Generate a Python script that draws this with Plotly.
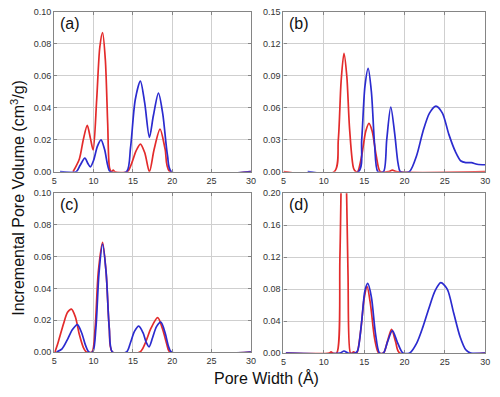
import plotly.graph_objects as go

# ---- data (pore width in Å, incremental pore volume in cm3/g) ----
a_red_x = [7.4, 8.2, 8.7, 9.2, 9.6, 9.95, 10.4, 10.8, 11.15, 11.5, 11.8, 12.05, 12.3, 12.5, 12.7, 14.3, 14.9, 15.4, 15.95, 16.5, 17.1, 17.7, 18.45, 19.1, 19.7, 30]
a_red_y = [0, 0.008, 0.02, 0.029, 0.021, 0.0136, 0.045, 0.078, 0.087, 0.07, 0.03, 0.002, 0, 0.001, 0, 0, 0.006, 0.013, 0.0173, 0.012, 0.0, 0.014, 0.0266, 0.014, 0, 0]
a_blue_x = [5.75, 7.8, 8.3, 8.9, 9.3, 9.6, 10.0, 10.5, 10.95, 11.4, 11.8, 12.1, 14.2, 14.7, 15.3, 15.95, 16.5, 17.1, 17.6, 18.25, 18.8, 19.4, 19.9, 30]
a_blue_y = [0, 0, 0.004, 0.0085, 0.005, 0.003, 0.007, 0.016, 0.0199, 0.014, 0.004, 0, 0, 0.015, 0.045, 0.0567, 0.043, 0.0215, 0.035, 0.0492, 0.036, 0.01, 0, 0]

b_red_x = [5.0, 11.3, 11.8, 12.15, 12.5, 12.85, 13.2, 13.7, 14.0, 14.2, 14.7, 15.2, 15.6, 16.0, 16.5, 17.0, 18.0, 18.5, 19.0, 30]
b_red_y = [0, 0, 0.03, 0.085, 0.111, 0.09, 0.04, 0.003, 0, 0, 0.015, 0.038, 0.0454, 0.038, 0.015, 0, 0, 0.0015, 0, 0]
b_blue_x = [8.0, 14.3, 14.7, 15.1, 15.5, 15.9, 16.3, 16.7, 17.4, 17.8, 18.3, 18.8, 19.2, 19.5, 20.6, 21.5, 22.3, 23.1, 23.9, 24.7, 25.5, 26.3, 27.0, 27.6, 28.3, 29.0, 30]
b_blue_y = [0, 0, 0.03, 0.08, 0.097, 0.075, 0.025, 0, 0, 0.03, 0.0607, 0.035, 0.008, 0, 0, 0.015, 0.038, 0.055, 0.0616, 0.055, 0.035, 0.019, 0.01, 0.0085, 0.0085, 0.007, 0.0065]

c_red_x = [5.1, 5.5, 6.2, 6.7, 7.2, 7.7, 8.2, 8.7, 9.1, 9.8, 10.2, 10.6, 11.15, 11.6, 12.0, 12.4, 15.9, 16.6, 17.3, 18.15, 18.8, 19.3, 19.7, 30]
c_red_y = [0, 0.006, 0.018, 0.025, 0.027, 0.022, 0.011, 0.003, 0, 0, 0.015, 0.05, 0.069, 0.05, 0.015, 0, 0, 0.006, 0.015, 0.0216, 0.014, 0.005, 0, 0]
c_blue_x = [5.3, 6.0, 6.7, 7.3, 7.95, 8.5, 9.0, 9.4, 9.9, 10.3, 10.7, 11.15, 11.6, 12.0, 12.4, 14.2, 14.7, 15.2, 15.75, 16.3, 16.7, 17.05, 17.5, 18.0, 18.55, 19.1, 19.5, 19.9, 30]
c_blue_y = [0, 0.002, 0.008, 0.014, 0.0173, 0.012, 0.004, 0, 0, 0.015, 0.05, 0.068, 0.05, 0.015, 0, 0, 0.006, 0.013, 0.0163, 0.012, 0.006, 0.0033, 0.009, 0.016, 0.0188, 0.012, 0.004, 0, 0]

d_red_x = [5.3, 10.7, 10.9, 11.1, 11.6, 12.0, 12.3, 12.5, 12.7, 13.0, 13.3, 13.5, 13.7, 13.9, 14.1, 14.6, 15.0, 15.37, 15.8, 16.3, 16.8, 17.4, 17.9, 18.4, 18.9, 19.4, 30]
d_red_y = [0, 0, 0.0015, 0, 0, 0.12, 0.29, 0.32, 0.27, 0.1, 0, 0, 0.0015, 0, 0, 0.03, 0.068, 0.083, 0.06, 0.018, 0, 0, 0.015, 0.0297, 0.014, 0, 0]
d_blue_x = [5.3, 12.0, 12.5, 13.0, 13.9, 14.2, 14.7, 15.1, 15.45, 15.9, 16.4, 16.9, 17.4, 17.9, 18.5, 19.1, 19.8, 20.65, 21.5, 22.3, 23.0, 23.8, 24.5, 25.3, 26.1, 26.9, 27.6, 28.2, 30]
d_blue_y = [0, 0, 0.0025, 0, 0, 0.003, 0.04, 0.078, 0.087, 0.07, 0.025, 0, 0, 0.014, 0.028, 0.014, 0, 0, 0.012, 0.033, 0.055, 0.078, 0.088, 0.08, 0.05, 0.02, 0.004, 0, 0]

x_ticks = [5, 10, 15, 20, 25, 30]
y_ranges = {"a": [0, 0.10], "b": [0, 0.15], "c": [0, 0.10], "d": [0, 0.20]}
y_dticks = {"a": 0.02, "b": 0.03, "c": 0.02, "d": 0.04}
panel_labels = ["(a)", "(b)", "(c)", "(d)"]
y_title = "Incremental Pore Volume (cm<sup>3</sup>/g)"
x_title = "Pore Width (Å)"

RED = "#e32b2b"
BLUE = "#2b2bcf"

W, H = 500, 397


def px_x(p):
    return p / W


def px_y(p):
    return min(1.0, max(0.0, 1 - p / H))


panels = [
    ("a", a_red_x, a_red_y, a_blue_x, a_blue_y, [px_x(52), px_x(252)], [px_y(171), px_y(7)]),
    ("b", b_red_x, b_red_y, b_blue_x, b_blue_y, [px_x(285), px_x(490)], [px_y(171), px_y(7)]),
    ("c", c_red_x, c_red_y, c_blue_x, c_blue_y, [px_x(52), px_x(252)], [px_y(356), px_y(193)]),
    ("d", d_red_x, d_red_y, d_blue_x, d_blue_y, [px_x(285), px_x(490)], [px_y(357), px_y(193)]),
]

fig = go.Figure()
layout = dict(
    width=W, height=H, margin=dict(l=0, r=0, t=0, b=0),
    paper_bgcolor="white", plot_bgcolor="white", showlegend=False,
    font=dict(family="Liberation Sans, Arial, sans-serif", color="#333"),
)
annotations = []
axis_common = dict(
    showline=True, linecolor="#858585", linewidth=1.2, mirror="ticks",
    showgrid=True, gridcolor="#cfcfcf", gridwidth=1,
    ticks="inside", ticklen=3, tickcolor="#858585",
    tickfont=dict(size=9, color="#333"), zeroline=False,
)
for i, (key, rx, ry, bx, by, xd, yd) in enumerate(panels):
    n = "" if i == 0 else str(i + 1)
    xa, ya = "x" + n, "y" + n
    fig.add_trace(go.Scatter(x=rx, y=ry, mode="lines", xaxis=xa, yaxis=ya,
                             line=dict(color=RED, width=1.7, shape="spline", smoothing=0.8)))
    fig.add_trace(go.Scatter(x=bx, y=by, mode="lines", xaxis=xa, yaxis=ya,
                             line=dict(color=BLUE, width=1.7, shape="spline", smoothing=0.8)))
    layout["xaxis" + n] = dict(axis_common, domain=xd, anchor=ya, range=[5, 30],
                               tickvals=x_ticks, ticktext=[str(t) for t in x_ticks])
    layout["yaxis" + n] = dict(axis_common, domain=yd, anchor=xa, range=y_ranges[key],
                               dtick=y_dticks[key], tickformat=".2f")
    annotations.append(dict(text=panel_labels[i], xref=xa + " domain", yref=ya + " domain",
                            x=0.02, y=0.995, xanchor="left", yanchor="top", showarrow=False,
                            font=dict(size=16, color="#111")))

annotations.append(dict(text=y_title, xref="paper", yref="paper", x=px_x(15), y=px_y(198),
                        textangle=-90, showarrow=False, xanchor="center", yanchor="middle",
                        font=dict(size=16, color="#111")))
annotations.append(dict(text=x_title, xref="paper", yref="paper", x=px_x(268), y=px_y(383),
                        showarrow=False, xanchor="center", yanchor="middle",
                        font=dict(size=16, color="#111")))
layout["annotations"] = annotations
fig.update_layout(**layout)
fig.write_html("out.html", config={"displayModeBar": False},
               post_script="document.body.style.margin='0px';")
